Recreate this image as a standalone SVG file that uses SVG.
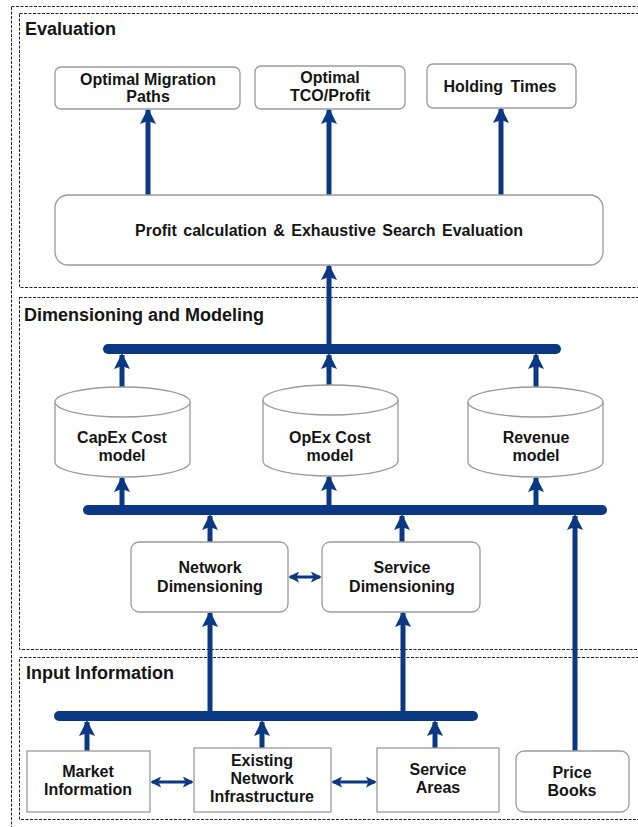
<svg xmlns="http://www.w3.org/2000/svg" width="638" height="827" viewBox="0 0 638 827">
  <style>
    .frame { fill: none; stroke: #222; stroke-width: 1; stroke-dasharray: 3 1.5; }
    .box { fill: #fff; stroke: #9a9a9a; stroke-width: 1.3; }
    .lbl { font-family: "Liberation Sans", Arial, sans-serif; font-weight: bold; font-size: 16px; fill: #151515; text-anchor: middle; }
    .title { font-family: "Liberation Sans", Arial, sans-serif; font-weight: bold; font-size: 18px; fill: #151515; }
    .bus { stroke: #0a3882; stroke-width: 10; stroke-linecap: round; fill: none; }
    .arr { stroke: #0a3882; stroke-width: 5; fill: none; marker-end: url(#head); }
    .dbl { stroke: #0a3882; stroke-width: 3; fill: none; marker-start: url(#small); marker-end: url(#small); }
  </style>
  <defs>
    <marker id="head" viewBox="0 -8 16 16" refX="14" refY="0" markerWidth="16" markerHeight="16" markerUnits="userSpaceOnUse" orient="auto">
      <path d="M16,0 L0,-8 L3,0 L0,8 Z" fill="#0a3882"/>
    </marker>
    <marker id="small" viewBox="0 -6 12 12" refX="10" refY="0" markerWidth="11" markerHeight="11" markerUnits="userSpaceOnUse" orient="auto-start-reverse">
      <path d="M12,0 L0,-6 L3,0 L0,6 Z" fill="#0a3882"/>
    </marker>
  </defs>

  <rect width="638" height="827" fill="#fff"/>

  <!-- section frames (half-pixel offsets keep the dashes crisp) -->
  <g id="frames">
    <rect class="frame" x="11.5" y="6.5" width="640" height="840"/>
    <rect class="frame" x="19.5" y="13.5" width="630" height="274"/>
    <rect class="frame" x="19.5" y="297.5" width="630" height="352"/>
    <rect class="frame" x="19.5" y="657.5" width="630" height="162"/>
  </g>
  <text class="title" x="25" y="35">Evaluation</text>
  <text class="title" x="24" y="321">Dimensioning and Modeling</text>
  <text class="title" x="26" y="679">Input Information</text>

  <!-- connectors -->
  <g id="connectors">
    <line class="bus" x1="108" y1="349" x2="556" y2="349"/>
    <line class="bus" x1="88" y1="510" x2="602" y2="510"/>
    <line class="bus" x1="59" y1="716" x2="473" y2="716"/>

    <line class="arr" x1="148" y1="195" x2="148" y2="110"/>
    <line class="arr" x1="329" y1="195" x2="329" y2="110"/>
    <line class="arr" x1="501" y1="195" x2="501" y2="109"/>
    <line class="arr" x1="329" y1="349" x2="329" y2="266"/>

    <line class="arr" x1="122" y1="387" x2="122" y2="355"/>
    <line class="arr" x1="329" y1="385" x2="329" y2="355"/>
    <line class="arr" x1="536" y1="387" x2="536" y2="355"/>

    <line class="arr" x1="122" y1="508" x2="122" y2="478"/>
    <line class="arr" x1="329" y1="508" x2="329" y2="477"/>
    <line class="arr" x1="536" y1="508" x2="536" y2="478"/>

    <line class="arr" x1="210" y1="542" x2="210" y2="516"/>
    <line class="arr" x1="402" y1="542" x2="402" y2="516"/>
    <line class="arr" x1="575" y1="751" x2="575" y2="516"/>

    <line class="arr" x1="210" y1="716" x2="210" y2="613"/>
    <line class="arr" x1="403" y1="716" x2="403" y2="613"/>

    <line class="arr" x1="87" y1="751" x2="87" y2="722"/>
    <line class="arr" x1="262" y1="748" x2="262" y2="722"/>
    <line class="arr" x1="435" y1="748" x2="435" y2="722"/>

    <line class="dbl" x1="290" y1="577" x2="320" y2="577"/>
    <line class="dbl" x1="152" y1="782" x2="192" y2="782"/>
    <line class="dbl" x1="333" y1="782" x2="375" y2="782"/>
  </g>

  <!-- evaluation outputs -->
  <g id="optimal-migration-paths">
    <rect class="box" x="55" y="67" width="185" height="42" rx="6"/>
    <text class="lbl" x="148" y="85">Optimal Migration</text>
    <text class="lbl" x="148" y="102">Paths</text>
  </g>
  <g id="optimal-tco-profit">
    <rect class="box" x="255" y="66" width="150" height="43" rx="6"/>
    <text class="lbl" x="330" y="83">Optimal</text>
    <text class="lbl" x="330" y="101">TCO/Profit</text>
  </g>
  <g id="holding-times">
    <rect class="box" x="427" y="64" width="149" height="44" rx="6"/>
    <text class="lbl" x="500" y="92" word-spacing="3">Holding Times</text>
  </g>
  <g id="profit-calculation">
    <rect class="box" x="55" y="195" width="548" height="70" rx="13"/>
    <text class="lbl" x="329" y="236" word-spacing="2">Profit calculation &amp; Exhaustive Search Evaluation</text>
  </g>

  <!-- cost and revenue models -->
  <g id="capex-model">
    <path class="box" d="M55,402 A67.5,15 0 0 1 190,402 L190,462 A67.5,15 0 0 1 55,462 Z"/>
    <path class="box" fill="none" d="M55,402 A67.5,15 0 0 0 190,402"/>
    <text class="lbl" x="122" y="443">CapEx Cost</text>
    <text class="lbl" x="122" y="461">model</text>
  </g>
  <g id="opex-model">
    <path class="box" d="M263,400 A67.5,15 0 0 1 398,400 L398,461 A67.5,15 0 0 1 263,461 Z"/>
    <path class="box" fill="none" d="M263,400 A67.5,15 0 0 0 398,400"/>
    <text class="lbl" x="330" y="443">OpEx Cost</text>
    <text class="lbl" x="330" y="461">model</text>
  </g>
  <g id="revenue-model">
    <path class="box" d="M468,402 A67.5,15 0 0 1 603,402 L603,462 A67.5,15 0 0 1 468,462 Z"/>
    <path class="box" fill="none" d="M468,402 A67.5,15 0 0 0 603,402"/>
    <text class="lbl" x="536" y="443">Revenue</text>
    <text class="lbl" x="536" y="461">model</text>
  </g>

  <!-- dimensioning -->
  <g id="network-dimensioning">
    <rect class="box" x="131" y="542" width="157" height="70" rx="8"/>
    <text class="lbl" x="210" y="573">Network</text>
    <text class="lbl" x="210" y="592">Dimensioning</text>
  </g>
  <g id="service-dimensioning">
    <rect class="box" x="322" y="542" width="158" height="70" rx="8"/>
    <text class="lbl" x="402" y="573">Service</text>
    <text class="lbl" x="402" y="592">Dimensioning</text>
  </g>

  <!-- inputs -->
  <g id="market-information">
    <rect class="box" x="27" y="751" width="123" height="61"/>
    <text class="lbl" x="88" y="777">Market</text>
    <text class="lbl" x="88" y="795">Information</text>
  </g>
  <g id="existing-network-infrastructure">
    <rect class="box" x="194" y="748" width="137" height="64"/>
    <text class="lbl" x="262" y="766">Existing</text>
    <text class="lbl" x="262" y="784">Network</text>
    <text class="lbl" x="262" y="802">Infrastructure</text>
  </g>
  <g id="service-areas">
    <rect class="box" x="377" y="748" width="122" height="64"/>
    <text class="lbl" x="438" y="775">Service</text>
    <text class="lbl" x="438" y="793">Areas</text>
  </g>
  <g id="price-books">
    <rect class="box" x="516" y="751" width="113" height="61" rx="8"/>
    <text class="lbl" x="572" y="778">Price</text>
    <text class="lbl" x="572" y="796">Books</text>
  </g>
</svg>
